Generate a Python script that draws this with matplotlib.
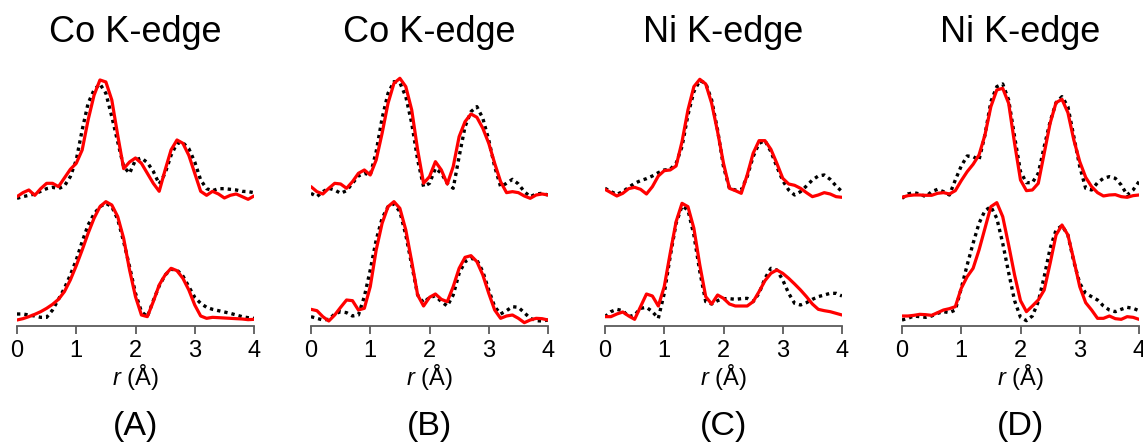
import numpy as np
import matplotlib
matplotlib.use("Agg")
import matplotlib.pyplot as plt

plt.rcParams['font.family'] = ['Liberation Sans', 'DejaVu Sans']
plt.rcParams['mathtext.fontset'] = 'custom'
plt.rcParams['mathtext.it'] = 'Liberation Sans:italic'
plt.rcParams['mathtext.rm'] = 'Liberation Sans'

# r grid (Angstrom), 0.1 step
r = np.round(np.arange(0, 4.01, 0.1), 2)

titles = ["Co K-edge", "Co K-edge", "Ni K-edge", "Ni K-edge"]
panel_labels = ["(A)", "(B)", "(C)", "(D)"]

# FT magnitudes (arbitrary units)
# panel A
a_up_fit = [7, 10, 12, 8, 13, 17, 17, 14.5, 21, 27.5, 32, 42, 64.5, 83, 94.5, 93, 79.5, 53, 28, 33,
            36, 32, 24.5, 17, 11, 27, 42, 49.5, 47, 38, 24.5, 11, 8, 11, 9, 6, 8, 9, 7, 5, 7.5]
a_up_exp = [5.75, 7, 8, 9, 11, 13, 14, 13, 15, 22, 34.5, 57, 77, 87, 91.5, 84.5, 67, 48, 29.5, 24.5,
            34.5, 36, 32.5, 26, 16.5, 24.5, 38, 47, 47.5, 43, 33, 19.5, 13, 11.5, 13, 13, 12.5, 12, 11, 10.75, 10]
a_lo_fit = [4.5, 5.5, 7, 8.75, 10.75, 13.25, 16.25, 20, 25.75, 34.5, 45.25, 57, 69.5, 80.75, 89.5, 93.25,
            90.75, 82, 65.75, 42, 22, 8.25, 7, 18.25, 30.75, 38.25, 43.25, 41.5, 35.75, 27, 15.75, 7.5,
            5.75, 6.5, 6.25, 6, 5.75, 5.5, 5.25, 4.75, 5]
a_lo_exp = [9, 9, 8.25, 7.5, 6.5, 6.5, 12, 20, 28.25, 38.25, 49.5, 63.25, 75.75, 84, 89.5, 92, 89.5, 80,
            63.25, 44.5, 24.5, 10.75, 7, 19, 30, 38.25, 42.5, 42, 37.5, 29.5, 21.5, 17, 14, 12.5, 11.5,
            10.5, 9.5, 8.25, 7, 6.25, 5.75]

# panel B
b_up_fit = [14.5, 10.75, 9, 13.25, 17, 16.5, 13.25, 18.25, 24.5, 27, 23.25, 34.5, 54.5, 77, 92, 95.75,
            89.5, 72, 42, 17, 22, 33.25, 27, 16.5, 29.5, 52, 63.25, 69, 66.5, 58.25, 47, 32, 18.25, 10,
            10.75, 10, 7.5, 5.75, 8.25, 9, 8.25]
b_up_exp = [9.5, 7, 10.75, 13.25, 12, 9.5, 11.5, 17, 22.5, 24.5, 23.25, 40.75, 65.75, 84.5, 93.25, 92.5,
            82, 62, 34.5, 14.5, 17, 28.25, 24.5, 17, 13.25, 37, 59.5, 70.75, 74.5, 65.75, 49.5, 29.5,
            14.5, 17, 20, 16.5, 10.75, 7, 9, 9.5, 8.25]
b_lo_fit = [12.5, 11.5, 7, 3.75, 8.25, 14, 19.5, 19, 12, 13.25, 29.5, 57, 77, 89.5, 93.25, 88.25, 72,
            48.25, 23.25, 15, 21.5, 24, 20, 18.25, 29.5, 43.25, 51.5, 52.75, 48.25, 38.25, 24.5, 12,
            5.75, 7.5, 8.25, 5.75, 2.5, 4.5, 5.75, 5.5, 4.5]
b_lo_exp = [7, 5.75, 4.5, 5, 9, 10.75, 10, 7.5, 8.25, 22, 42, 64.5, 80.75, 89.5, 91.5, 85.75, 68.25,
            45.75, 23.25, 17.5, 21.5, 22.5, 18.25, 15, 23.25, 39.5, 48.25, 50.75, 49.5, 40.75, 27, 14.5,
            9, 11.5, 14.5, 14, 10, 5.75, 4, 3.75, 4.5]

# panel C
c_up_fit = [12.5, 10, 7.5, 9.5, 13, 14, 12.5, 9, 14.5, 22.5, 26.5, 27, 30, 48.25, 72, 89.5, 95, 91.5,
            77, 55.75, 32, 13.25, 11.5, 9.5, 23.25, 39.5, 49, 49, 42.5, 32, 20.75, 16.5, 15.5, 13.25,
            10, 7, 8.25, 10, 9, 7, 6.5]
c_up_exp = [13.25, 10.75, 8.75, 10.75, 14, 17, 19, 20.5, 22.5, 25, 27, 27.5, 32, 44.5, 68.25, 85.75,
            94, 92, 79.5, 57, 29.5, 13.25, 12, 12, 22, 37, 47, 49, 40.75, 29.5, 19, 12, 8.25, 10.75,
            15, 19.5, 22.5, 23.25, 20, 15, 10.75]
c_lo_fit = [7, 7, 9, 10.5, 7.5, 5, 14.5, 24, 22.5, 15, 29.5, 54.5, 78.25, 92, 89.5, 73.25, 45.75, 22,
            16.5, 23.25, 20.75, 16.5, 15, 15, 15, 18.25, 25.75, 34, 39.5, 42, 39.5, 35.75, 31.5, 27,
            22, 16.5, 12.5, 11.5, 10.75, 9.5, 8.25]
c_lo_exp = [7, 10.75, 12.5, 11.5, 7, 8.25, 13.25, 14, 10.75, 5.75, 24.5, 52, 77, 90, 87, 68.25, 40.75,
            18.25, 16.5, 19, 20.5, 20.5, 20, 20.5, 20.75, 18.25, 24.5, 35.75, 43.25, 42, 34.5, 24.5,
            17, 15.75, 17.5, 20, 22, 23.25, 24.5, 24.5, 22.5]

# panel D
d_up_fit = [6.5, 7.75, 8.25, 8.25, 8, 8, 9.5, 10, 9, 11.5, 19, 25.75, 31.25, 38.25, 53.25, 74.5, 87,
            88.25, 77, 47, 19.5, 11.5, 12, 17, 39.5, 62, 77.5, 80, 70, 49.5, 33.25, 21.5, 14.5, 10,
            7.5, 8.25, 8.5, 7, 6.5, 7.75, 8.25]
d_up_exp = [5.75, 9, 10, 9, 7, 10.75, 12.5, 10.75, 8.25, 19.5, 30, 37.5, 37, 34.5, 53.25, 78.25, 89.5,
            91.5, 79.5, 52, 25.75, 17.5, 17.5, 24.5, 44.5, 63.25, 77.5, 82, 74.5, 52, 29.5, 13.25, 12,
            17.5, 20.75, 22, 20.75, 15.75, 8.25, 12, 18.25]
d_lo_fit = [7.5, 7.5, 8, 8.75, 8.5, 8, 10, 12, 13, 14.5, 28.25, 37, 43.25, 57, 73.25, 89.5, 92.5, 82,
            60.75, 38.25, 19, 10.75, 15, 19.5, 27, 47, 68.25, 75.75, 68.25, 49.5, 29.5, 17.5, 12, 5.75,
            5.75, 7.5, 5.5, 5, 7, 6.5, 5]
d_lo_exp = [4.5, 5.75, 7.5, 7, 6.5, 7.5, 9.5, 10.75, 10, 12, 28.25, 45.75, 62, 77, 86.5, 89.5, 80.75,
            62, 40, 19, 6.5, 4, 7.5, 18.25, 37, 58.25, 72, 75.25, 68.25, 48.25, 32, 24.5, 22, 19.5, 15,
            12, 10.75, 12.5, 14, 13.25, 11.5]

panels = [
    (a_up_fit, a_up_exp, a_lo_fit, a_lo_exp),
    (b_up_fit, b_up_exp, b_lo_fit, b_lo_exp),
    (c_up_fit, c_up_exp, c_lo_fit, c_lo_exp),
    (d_up_fit, d_up_exp, d_lo_fit, d_lo_exp),
]

offset = 90  # vertical shift of the upper pair

W, H = 1143, 446
fig = plt.figure(figsize=(W / 100, H / 100), dpi=100)

lefts = [17, 311, 605, 902]
axw = 237
bottom_px = 326
top_px = 59.3
grey = '#5a5a5a'

for i, (up_fit, up_exp, lo_fit, lo_exp) in enumerate(panels):
    ax = fig.add_axes([lefts[i] / W, (H - bottom_px) / H, axw / W, (bottom_px - top_px) / H])
    dots = dict(color='black', ls=(0, (1, 1.2)), lw=2.4)
    solid = dict(color='#ff0000', lw=2.3, solid_joinstyle='round', solid_capstyle='round')
    ax.plot(r, np.array(up_exp) + offset, **dots)
    ax.plot(r, np.array(lo_exp), **dots)
    ax.plot(r, np.array(up_fit) + offset, **solid)
    ax.plot(r, np.array(lo_fit), **solid)
    ax.set_xlim(0, 4)
    ax.set_ylim(0, 200)
    for s in ['top', 'right', 'left']:
        ax.spines[s].set_visible(False)
    ax.spines['bottom'].set_color(grey)
    ax.spines['bottom'].set_linewidth(1.3)
    ax.set_yticks([])
    ax.set_xticks([0, 1, 2, 3, 4])
    ax.tick_params(axis='x', direction='out', length=5.5, width=1.3, color=grey,
                   labelsize=17, pad=4.5)
    cx = (lefts[i] + axw / 2) / W
    fig.text(cx, (H - 33) / H, titles[i], ha='center', va='center', fontsize=26)
    fig.text(cx, (H - 377) / H, '$r$ (Å)', ha='center', va='center', fontsize=17)
    fig.text(cx, (H - 427) / H, panel_labels[i], ha='center', va='center', fontsize=24.5)

fig.savefig('out.png', dpi=100)
